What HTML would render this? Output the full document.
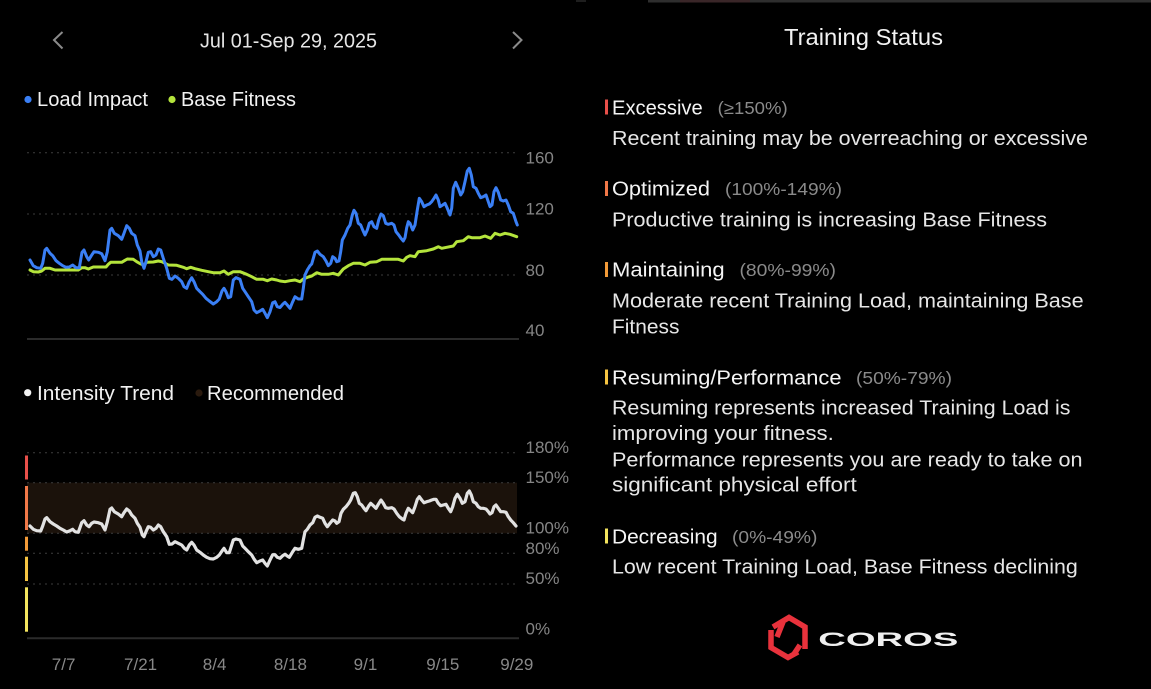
<!DOCTYPE html>
<html>
<head>
<meta charset="utf-8">
<style>
  html,body{margin:0;padding:0;background:#000;}
  body{width:1151px;height:689px;overflow:hidden;}
  svg{display:block;}
  text{font-family:"Liberation Sans",sans-serif;}
</style>
</head>
<body>
<svg width="1151" height="689" viewBox="0 0 1151 689" xmlns="http://www.w3.org/2000/svg">
  <rect x="0" y="0" width="1151" height="689" fill="#000"/>
  <!-- top edge line -->
  <rect x="576" y="0" width="10" height="2" fill="#1e1e1e"/>
  <rect x="648" y="0" width="503" height="2.5" fill="#2e2e2e"/>
  <rect x="680" y="0" width="70" height="2.5" fill="#3a2628"/>

  <!-- Header -->
  <polyline points="62.5,32 54,40 62.5,48.5" fill="none" stroke="#8a8a8a" stroke-width="2"/>
  <polyline points="513,32 521.5,40 513,48.5" fill="none" stroke="#8a8a8a" stroke-width="2"/>
  <text x="200" y="47.5" font-size="20" fill="#e6e6e6" textLength="177" lengthAdjust="spacingAndGlyphs">Jul 01-Sep 29, 2025</text>

  <!-- Legend top -->
  <circle cx="28" cy="99.5" r="3.6" fill="#3a7ff5"/>
  <text x="37" y="106" font-size="20" fill="#f2f2f2" textLength="111" lengthAdjust="spacingAndGlyphs">Load Impact</text>
  <circle cx="172" cy="99.5" r="3.6" fill="#b4e43c"/>
  <text x="181" y="106" font-size="20" fill="#f2f2f2" textLength="115" lengthAdjust="spacingAndGlyphs">Base Fitness</text>

  <!-- Top chart grid -->
  <g stroke="#3d3d3d" stroke-width="1" stroke-dasharray="2,4">
    <line x1="27" y1="152.7" x2="519" y2="152.7"/>
    <line x1="27" y1="214" x2="519" y2="214"/>
    <line x1="27" y1="275" x2="519" y2="275"/>
  </g>
  <line x1="27" y1="339" x2="519" y2="339" stroke="#2b2b2b" stroke-width="2"/>
  <g font-size="17" fill="#858585">
    <text x="525.5" y="163.3">160</text>
    <text x="525.5" y="214.3">120</text>
    <text x="525.5" y="276">80</text>
    <text x="525.5" y="336">40</text>
  </g>

  <!-- Base Fitness -->
  <polyline fill="none" stroke="#b4e43c" stroke-width="3" stroke-linejoin="round" stroke-linecap="round" points="30,270 33.3,271.7 38.3,272 41.7,271 45,268.3 50,268.3 55,270 63.3,270 78.3,270 81.7,267.7 85,267.7 88.3,269 93.3,267 106,267 108.3,264.3 110.7,262.3 121.7,262.3 125,260.3 127.3,259 133.3,259.3 136.7,261.7 140.7,264 144,265 146.7,262.3 153.3,262 158.3,261 161.7,261.7 165,263.3 168.3,265 176.7,265.3 183.3,267.3 186.7,268.7 190.7,267.3 195,268.7 201.7,270.3 208.3,271.7 213.3,272.7 220,272.7 224,271 228.3,274.3 233.3,271.7 240,271.7 246.7,274.3 251.7,276.7 256.7,279.3 263.3,279.3 267.3,280.7 271.7,279 276.7,280 280,281 285,281.7 290,280.7 295,280 300,281.7 303.3,279 308.3,277 311.7,276 316.7,272.7 321.7,274.3 328.3,274.3 333.3,273.3 338.3,275 343.3,269 348.3,265.7 353.3,263.3 360,263.3 365,265 370,262.3 376.7,261.7 381.7,259.3 390,259.3 398.3,259.3 403.3,261 406.7,257.3 410,255.7 415,256.7 418.3,251.7 426.7,250.7 433.3,249 438.3,246.7 441.7,248.3 446.7,247.3 453.3,246 456.7,241.7 463.3,240.7 468.3,236.7 471.7,237.7 480,237.7 485,236 490.7,238.3 495,233.3 500,235 505,233.3 510,234.3 516.7,236.7"/>

  <!-- Load Impact -->
  <polyline fill="none" stroke="#3a7ff5" stroke-width="3" stroke-linejoin="round" stroke-linecap="round" points="30,260 33.3,265.7 36.7,267.7 40.7,268.3 42.7,263.3 45,250 46.7,248.3 50,253.3 52.7,255.7 56,260.7 59.3,263.3 62.7,265.7 66,267.3 69.3,267 72.7,265 76,267.7 79.3,267.7 82,252.3 84,250 86.7,256.7 88.7,260 91.3,255.7 94,251.7 98.3,252.3 101.7,253.7 105,260.7 107.3,251.7 110,230 111.7,228.3 114.3,233.3 118.3,235.7 121.7,239.3 124,233.3 126.7,225.7 129.3,228.3 131.7,233.3 135,235.7 137.3,245 140,251 141.7,261.7 144,268.3 146,261.7 148.3,252.3 150.7,251.7 153.3,256.7 156,255 158.3,249 160.7,250 163.3,258.3 166.7,268.3 169.3,278.3 172,279.3 175,276 178.3,278.3 181.7,281.7 184,286.7 186.7,288.3 189,282.3 191.7,277.7 194,281.7 196.7,288.3 200,291.7 202.7,294.3 206,298.3 209.3,301 213.3,304 216.7,301.7 219.3,299 222,291 224,288.3 226,291.7 228.3,297.7 230.7,296.7 233.3,280 236,277.7 240,279.3 242.7,288.3 245,291.7 248.3,296.7 251.7,301.7 254,310 256.7,312.7 260,311 262.7,309.3 265,313.3 267.3,317.7 270,311.7 272.7,302.7 275,301.7 277.3,306.7 280,307.5 282.7,304.3 285,302.3 287.3,305 290,308.3 292.7,301.7 295,296.7 298.3,299 301.7,299 303.3,288.3 305,275 307.3,270 310,265.7 311.7,264 315,252.3 317.3,251 320,254.3 323.3,256.7 326,261 328.3,265.7 330.7,263.3 332.7,256.7 335,258.3 336.7,261.7 339,261 340.7,251.7 342.3,240 345,235 347.7,228.3 350,225 352.3,215 354,210.3 356,213.3 358.3,223.3 360.7,225 362.7,230 365,235 367.3,230 369.3,223.3 371.7,221.7 374,226.7 376.7,228.3 378.7,220 381,214 383.3,215.7 385.7,223.3 388.3,224.3 391.7,223.3 394,225 396,231.7 398.7,235 401,238.3 403.3,241 405,237.7 406.7,227.7 408.3,221.7 410,223.3 412.7,230 415,225 417.3,210 419.3,198.3 421.7,201.7 424,206.7 426.7,205 429.3,204 431.7,201.7 434,198.3 436,195 438.3,200 440,206.7 442.7,205 445,203.3 447.3,208.3 450,215 451.7,208.3 453.3,188.3 455.7,182.3 458.3,188.3 460.7,195 462.7,191.7 465,181.7 467.3,171 469.3,168.3 471.3,175 473.3,186.7 476,188.3 478.3,193.3 480.7,197.7 483.3,196.7 486,195 488.3,201.7 490,206.7 492,205 494,191.7 496,187.7 498.3,192.3 500.7,200 503.3,201 506,200 508.3,205 510.7,211.7 513.3,213.3 516,221.7 517.3,225"/>

  <!-- Legend bottom -->
  <circle cx="27.7" cy="392.7" r="3.6" fill="#f2f2f2"/>
  <text x="37" y="400" font-size="20" fill="#f2f2f2" textLength="137" lengthAdjust="spacingAndGlyphs">Intensity Trend</text>
  <circle cx="199" cy="393" r="3.6" fill="#2a1a0e"/>
  <text x="207" y="400" font-size="20" fill="#f2f2f2" textLength="137" lengthAdjust="spacingAndGlyphs">Recommended</text>

  <!-- Bottom chart -->
  <rect x="27" y="482.7" width="490" height="50.6" fill="#1b120b"/>
  <g stroke="#3d3d3d" stroke-width="1" stroke-dasharray="2,4">
    <line x1="27" y1="452.7" x2="519" y2="452.7"/>
    <line x1="27" y1="482.7" x2="519" y2="482.7"/>
    <line x1="27" y1="533.3" x2="519" y2="533.3"/>
    <line x1="27" y1="553.3" x2="519" y2="553.3"/>
    <line x1="27" y1="584" x2="519" y2="584"/>
  </g>
  <line x1="27" y1="638.3" x2="519" y2="638.3" stroke="#2b2b2b" stroke-width="2"/>
  <!-- status bars -->
  <rect x="25" y="455.5" width="3" height="24" fill="#e8504a"/>
  <rect x="25" y="486" width="3" height="44" fill="#f07848"/>
  <rect x="25" y="536.7" width="3" height="14" fill="#f29a38"/>
  <rect x="25" y="556.7" width="3" height="24.3" fill="#f6c442"/>
  <rect x="25" y="587.3" width="3" height="44.4" fill="#f3e45e"/>
  <g font-size="17" fill="#858585">
    <text x="525.5" y="453">180%</text>
    <text x="525.5" y="483">150%</text>
    <text x="525.5" y="533.3">100%</text>
    <text x="525.5" y="554">80%</text>
    <text x="525.5" y="584">50%</text>
    <text x="525.5" y="634.3">0%</text>
  </g>

  <polyline fill="none" stroke="#e2e2e2" stroke-width="3.2" stroke-linejoin="round" stroke-linecap="round" points="30,526 33.3,529.3 36.7,530.7 40.7,531 42.7,526 45,519 46.7,517.7 50,521.7 53.3,524 56.7,526 60,528.3 63.3,530 66.7,532 70,530.7 72.7,529.3 75,531.7 78.3,532.3 81.7,522.7 84,520.7 86.7,525 89,526.7 91.7,523.3 94,522 98.3,522.7 101.7,524 105,530 107.3,521.7 110,509.3 111.7,508 114.3,511.7 118.3,514 121.7,516.7 124,512.7 126.7,509 129.3,511 131.7,515 135,518.3 137.3,523.3 140,527.3 142.3,535 144,536.7 146,531.7 148.3,526.7 150.7,527.3 153.3,530 156,528.3 158.3,525 160.7,526.7 163.3,531.7 166.7,536.7 169.3,544.3 172,544 175,541.7 178.3,543.3 181.7,545 184.3,548.3 186.7,550 189.3,545 191.7,542.3 194,545 196.7,550 200,552.3 203.3,555 206.7,557.3 210,558.7 213.3,559 216.7,557.3 219.3,555 222,551 224,548.3 226.7,552.7 229.3,552.7 233.3,540 236,539 240,540 242.7,546 245,548.3 248.3,551.7 251.7,555 254,559 256.7,562.7 260,561 262.7,560 265,563.3 267.3,566 270,560 272.7,554.7 275,554.7 277.3,557.3 280,558.3 282.7,555.7 285,554.3 287.3,556 289.3,557.3 292.7,551.7 295,548.3 298.3,549.3 301.7,548.3 303.3,540 305,531.7 307.3,529.3 310,525 312.7,522.7 315,517.3 317.3,516 320,517.3 322.7,518.3 325,523.3 327.3,526.7 330,523.3 332.7,520 335,521 336.7,523.3 339,521.7 341,513.3 343.3,509.3 346,506.7 348.7,503.3 350.7,500 353.3,493.3 355.3,492.7 357.3,496.7 359.3,503.3 361.7,505 364,508.3 366,510.7 368.7,506 370.7,503.3 373.3,505.7 376,508.3 378.3,504.3 381,500 383.3,503.3 385.7,507.7 388.3,508.3 391.7,507.7 394,509 396.7,513.3 399.3,516.7 402.7,519.3 404,520 406,513.3 408.3,508.3 410.7,510.7 412.7,512.7 415,506.7 417.3,499.3 419.3,496.7 421.7,500 424,502.7 426.7,501.7 429.3,501 431.7,500 434,499.3 436,499.3 438.3,503.3 440.7,505.7 443.3,505 446,504.3 448.3,508.3 450.7,511.7 452.7,506.7 455,498.3 457.3,494.3 460,498.3 462.3,503.3 465,501.7 467.3,493.3 469.3,491 471.3,495 473.3,501.7 476,503.3 478.3,506.7 480.7,508.3 483.3,508.3 486,509 488.3,511.7 490,514 492,512.7 494,506.7 496,505 498.3,508.3 500.7,511.7 503.3,511.7 506,512.3 508.3,516.7 510.7,520 513.3,522.7 516,526"/>

  <!-- X axis labels -->
  <g font-size="17" fill="#888888" text-anchor="middle">
    <text x="63.6" y="670">7/7</text>
    <text x="140.6" y="670">7/21</text>
    <text x="214.6" y="670">8/4</text>
    <text x="290.4" y="670">8/18</text>
    <text x="365.5" y="670">9/1</text>
    <text x="442.8" y="670">9/15</text>
    <text x="516.8" y="670">9/29</text>
  </g>

  <!-- Right panel -->
  <text x="784" y="45" font-size="23" fill="#f2f2f2" textLength="159" lengthAdjust="spacingAndGlyphs">Training Status</text>

  <!-- Excessive -->
  <rect x="605" y="99.5" width="3" height="15" fill="#e8504a"/>
  <text x="612" y="114.3" font-size="20" fill="#f5f5f5" textLength="90.7" lengthAdjust="spacingAndGlyphs">Excessive</text>
  <text x="717.7" y="113.8" font-size="17.5" fill="#8a8a8a" textLength="70" lengthAdjust="spacingAndGlyphs">(≥150%)</text>
  <text x="612" y="145" font-size="20.5" fill="#e6e6e6" textLength="476" lengthAdjust="spacingAndGlyphs">Recent training may be overreaching or excessive</text>

  <!-- Optimized -->
  <rect x="605" y="181" width="3" height="15" fill="#f07848"/>
  <text x="612" y="195.7" font-size="20" fill="#f5f5f5" textLength="98" lengthAdjust="spacingAndGlyphs">Optimized</text>
  <text x="725" y="195.2" font-size="17.5" fill="#8a8a8a" textLength="117" lengthAdjust="spacingAndGlyphs">(100%-149%)</text>
  <text x="612" y="226.6" font-size="20.5" fill="#e6e6e6" textLength="435" lengthAdjust="spacingAndGlyphs">Productive training is increasing Base Fitness</text>

  <!-- Maintaining -->
  <rect x="605" y="262" width="3" height="15" fill="#f29a38"/>
  <text x="612" y="276.6" font-size="20" fill="#f5f5f5" textLength="112.6" lengthAdjust="spacingAndGlyphs">Maintaining</text>
  <text x="739.5" y="276" font-size="17.5" fill="#8a8a8a" textLength="96.5" lengthAdjust="spacingAndGlyphs">(80%-99%)</text>
  <text x="612" y="307.3" font-size="20.5" fill="#e6e6e6" textLength="471.6" lengthAdjust="spacingAndGlyphs">Moderate recent Training Load, maintaining Base</text>
  <text x="612" y="333.3" font-size="20.5" fill="#e6e6e6" textLength="67.4" lengthAdjust="spacingAndGlyphs">Fitness</text>

  <!-- Resuming/Performance -->
  <rect x="605" y="369.5" width="3" height="15" fill="#f6c442"/>
  <text x="612" y="384.3" font-size="20" fill="#f5f5f5" textLength="229.5" lengthAdjust="spacingAndGlyphs">Resuming/Performance</text>
  <text x="856" y="383.8" font-size="17.5" fill="#8a8a8a" textLength="96" lengthAdjust="spacingAndGlyphs">(50%-79%)</text>
  <text x="612" y="414.3" font-size="20.5" fill="#e6e6e6" textLength="458.5" lengthAdjust="spacingAndGlyphs">Resuming represents increased Training Load is</text>
  <text x="612" y="440" font-size="20.5" fill="#e6e6e6" textLength="221.8" lengthAdjust="spacingAndGlyphs">improving your fitness.</text>
  <text x="612" y="466.7" font-size="20.5" fill="#e6e6e6" textLength="470.5" lengthAdjust="spacingAndGlyphs">Performance represents you are ready to take on</text>
  <text x="612" y="491.7" font-size="20.5" fill="#e6e6e6" textLength="244.8" lengthAdjust="spacingAndGlyphs">significant physical effort</text>

  <!-- Decreasing -->
  <rect x="605" y="528.5" width="3" height="15" fill="#f3e45e"/>
  <text x="612" y="543.3" font-size="20" fill="#f5f5f5" textLength="105.6" lengthAdjust="spacingAndGlyphs">Decreasing</text>
  <text x="732" y="542.8" font-size="17.5" fill="#8a8a8a" textLength="85.4" lengthAdjust="spacingAndGlyphs">(0%-49%)</text>
  <text x="612" y="573.3" font-size="20.5" fill="#e6e6e6" textLength="465.8" lengthAdjust="spacingAndGlyphs">Low recent Training Load, Base Fitness declining</text>

  <!-- COROS logo -->
  <g fill="none" stroke="#e8323c" stroke-width="5.5" stroke-linejoin="miter">
    <polyline points="773,627 789,617.5 805,627 805,649"/>
    <polyline points="771,630 771,647.5 788,657.5 798,652"/>
    <polyline points="783,622 777,637"/>
    <polyline points="800,645 794,654"/>
  </g>
  <text x="818.3" y="646" font-size="19.5" font-weight="bold" fill="#f0f0f0" textLength="140" lengthAdjust="spacingAndGlyphs">COROS</text>
</svg>
</body>
</html>
